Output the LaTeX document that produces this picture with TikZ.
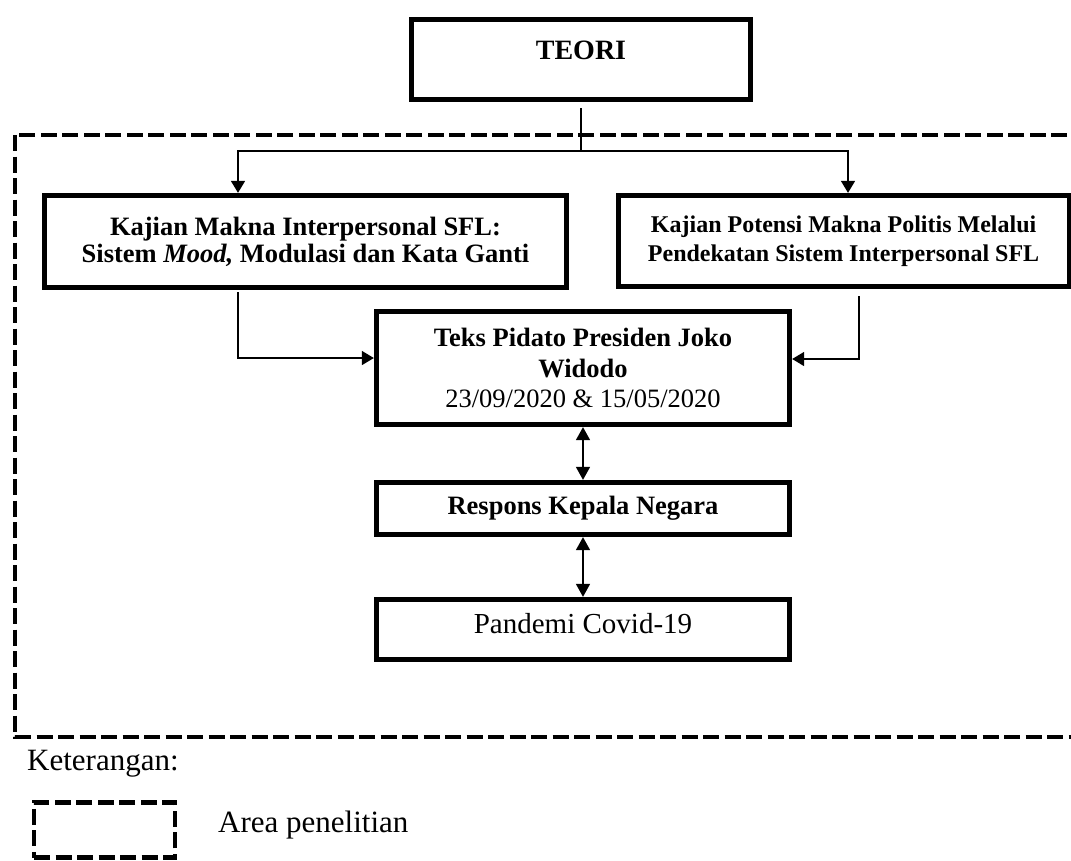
\documentclass[tikz,border=0pt]{standalone}
\usepackage{fontspec}
\setmainfont{Liberation Serif}
\usetikzlibrary{arrows.meta}

\begin{document}
\begin{tikzpicture}[x=1pt,y=-1pt,
    kotak/.style={draw,line width=4.8pt,align=center,inner sep=0pt},
    garis/.style={line width=1.5pt},
    panah/.style={garis,-{Triangle[length=12pt,width=14pt]}},
    duapanah/.style={garis,{Triangle[length=13pt,width=14pt]}-{Triangle[length=13pt,width=14pt]}},
    putus/.style={line width=4.8pt,dash pattern=on 16pt off 5.5pt}]
  \useasboundingbox (0,0) rectangle (1071,860);
  % area penelitian
  \draw[putus] (15,135) rectangle (1100,737);
  % kotak
  \node[kotak,minimum width=339.5pt,minimum height=80.5pt,text height=18pt,text depth=18pt,
        font=\fontsize{28}{30}\selectfont\bfseries] (teori) at (581,59.5) {TEORI};
  \node[kotak,minimum width=522.5pt,minimum height=92.5pt,
        font=\fontsize{26.5}{27}\selectfont\bfseries] (kiri) at (305.5,241.5)
        {Kajian Makna Interpersonal SFL:\\ Sistem \textit{Mood,} Modulasi dan Kata Ganti};
  \node[kotak,minimum width=450.75pt,minimum height=91.5pt,
        font=\fontsize{24}{29}\selectfont\bfseries] (kanan) at (843.6,241)
        {Kajian Potensi Makna Politis Melalui\\ Pendekatan Sistem Interpersonal SFL};
  \node[kotak,minimum width=413.5pt,minimum height=113.5pt,
        font=\fontsize{26.5}{30.5}\selectfont\bfseries] (teks) at (583,368)
        {Teks Pidato Presiden Joko\\ Widodo\\ \mdseries 23/09/2020 \& 15/05/2020};
  \node[kotak,minimum width=413.5pt,minimum height=52.5pt,
        font=\fontsize{26.5}{28}\selectfont\bfseries] (respons) at (583,508.5) {Respons Kepala Negara};
  \node[kotak,minimum width=413.5pt,minimum height=60.5pt,text depth=12pt,
        font=\fontsize{29}{31}\selectfont] (pandemi) at (583,629.5) {Pandemi Covid-19};
  % penghubung
  \coordinate (cabang) at (581,151);
  \draw[garis,shorten <=6pt] (teori.south) -- (cabang);
  \draw[panah] (cabang) -| (238,0 |- kiri.north);
  \draw[panah] (cabang) -| (848,0 |- kanan.north);
  \draw[panah,shorten <=2pt] (238,0 |- kiri.south) |- ([yshift=10pt]teks.west);
  \draw[panah,shorten <=7pt] (859,0 |- kanan.south) |- ([yshift=9pt]teks.east);
  \draw[duapanah] (teks.south) -- (respons.north);
  \draw[duapanah] (respons.south) -- (pandemi.north);
  % keterangan
  \node[anchor=base west,inner sep=0pt,font=\fontsize{31}{33}\selectfont] (ket) at (27,770) {Keterangan:};
  \node[draw,putus,minimum width=141pt,minimum height=55.5pt,inner sep=0pt] (legenda) at (104.5,830) {};
  \node[anchor=base west,inner sep=0pt,font=\fontsize{31}{33}\selectfont] (area) at (218,832) {Area penelitian};
\end{tikzpicture}
\end{document}
